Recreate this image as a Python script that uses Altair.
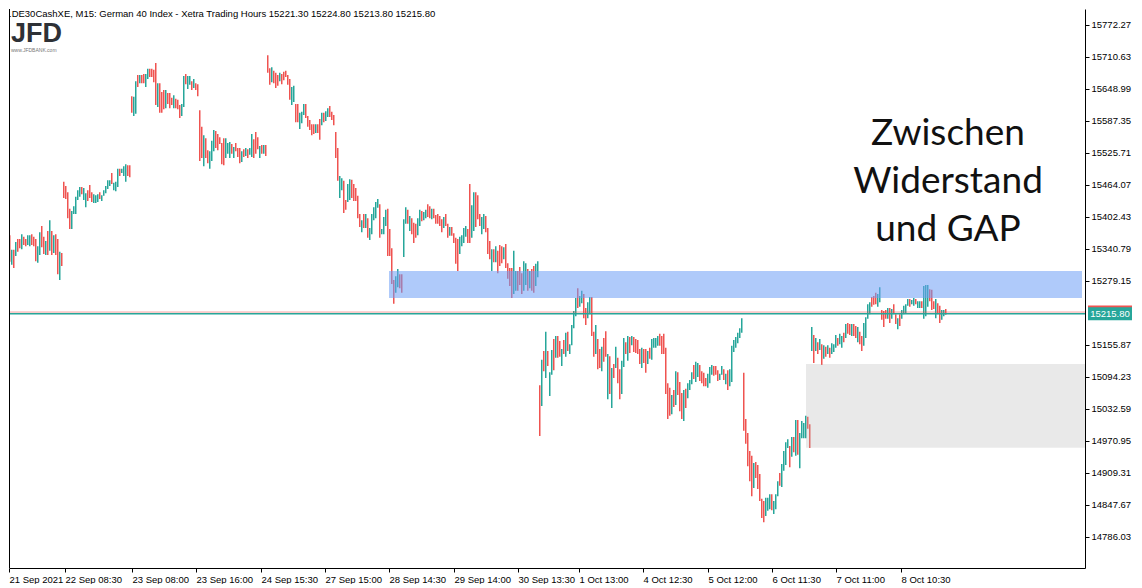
import json
import altair as alt
import pandas as pd

# ---------------- data (M15 bars: high, low, direction u=up d=down) ----------------
s01_hi = [15350, 15373, 15367, 15339, 15339, 15354, 15360, 15360, 15369, 15364,
          15360, 15367, 15367, 15369, 15364, 15360, 15346, 15373, 15385, 15364,
          15356, 15375, 15396, 15375, 15367, 15369, 15360, 15335, 15333]
s01_lo = [15296, 15310, 15316, 15310, 15304, 15327, 15335, 15342, 15340, 15348,
          15346, 15348, 15346, 15348, 15346, 15317, 15314, 15329, 15344, 15331,
          15329, 15329, 15337, 15329, 15333, 15329, 15292, 15281, 15308]
s01_dir = "dudud" "uddud" "duudd" "duudd" "ududu" "ddud"

s02_hi = [15470, 15462, 15450, 15418, 15414, 15423, 15441, 15454, 15460, 15460,
          15458, 15448, 15454, 15464, 15450, 15446, 15444, 15446, 15450, 15444,
          15454, 15462, 15473, 15473, 15487, 15468, 15470, 15495, 15495, 15495,
          15500, 15504, 15502, 15502]
s02_lo = [15439, 15437, 15400, 15379, 15379, 15408, 15408, 15435, 15441, 15446,
          15435, 15421, 15433, 15439, 15431, 15429, 15429, 15431, 15437, 15433,
          15443, 15448, 15456, 15462, 15466, 15454, 15452, 15460, 15481, 15487,
          15481, 15470, 15481, 15479]
s02_dir = "ddddu" "uuuud" "uuddd" "uuudu" "uuuud" "uuudu" "uudd"

s03_hi = [15635, 15634, 15664, 15676, 15676, 15676, 15678, 15678, 15688, 15688,
          15688, 15686, 15699, 15660, 15660, 15643, 15647, 15647, 15641, 15641,
          15632, 15637, 15630, 15628, 15618, 15620, 15674, 15678, 15674, 15674,
          15664, 15668, 15660, 15658]
s03_lo = [15603, 15597, 15601, 15653, 15660, 15660, 15660, 15653, 15668, 15672,
          15672, 15662, 15618, 15614, 15603, 15603, 15610, 15612, 15620, 15612,
          15618, 15612, 15612, 15610, 15593, 15597, 15614, 15658, 15649, 15657,
          15647, 15651, 15647, 15635]
s03_dir = "duudu" "dduud" "dddud" "ddudd" "duddd" "uuduu" "dudd"

s04_hi = [15608, 15576, 15560, 15554, 15531, 15529, 15549, 15570, 15568, 15562,
          15556, 15545, 15554, 15554, 15545, 15547, 15543, 15537, 15545, 15535,
          15535, 15529, 15533, 15535, 15533, 15535, 15562, 15552, 15566, 15556,
          15539, 15541, 15541, 15541]
s04_lo = [15510, 15516, 15500, 15516, 15506, 15495, 15510, 15529, 15535, 15531,
          15543, 15504, 15502, 15516, 15524, 15516, 15524, 15516, 15529, 15518,
          15506, 15508, 15518, 15520, 15516, 15522, 15518, 15516, 15524, 15533,
          15516, 15524, 15524, 15520]
s04_dir = "ddudd" "uuudd" "ddduu" "ududd" "dudud" "uuddd" "udud"

s05_hi = [15714, 15689, 15691, 15684, 15680, 15676, 15680, 15678, 15682, 15684,
          15676, 15668, 15653, 15655, 15620, 15620, 15603, 15605, 15620, 15620,
          15597, 15589, 15581, 15581, 15581, 15581, 15591, 15603, 15603, 15606,
          15612, 15616, 15605, 15599]
s05_lo = [15680, 15657, 15662, 15660, 15651, 15655, 15664, 15658, 15666, 15672,
          15657, 15628, 15618, 15624, 15585, 15585, 15572, 15583, 15599, 15593,
          15576, 15570, 15560, 15562, 15564, 15564, 15551, 15579, 15585, 15587,
          15595, 15595, 15589, 15579]
s05_dir = "ddudd" "duddd" "dduud" "duuud" "ddddu" "ddudu" "uddd"

s06_hi = [15566, 15535, 15481, 15477, 15472, 15435, 15466, 15475, 15474, 15466,
          15458, 15443, 15408, 15396, 15408, 15408, 15400, 15381, 15408, 15421,
          15431, 15437, 15427, 15379, 15402, 15416, 15418, 15379, 15342]
s06_lo = [15516, 15472, 15439, 15454, 15410, 15416, 15431, 15435, 15439, 15433,
          15433, 15400, 15383, 15373, 15381, 15381, 15362, 15358, 15369, 15396,
          15400, 15420, 15362, 15369, 15369, 15385, 15327, 15327, 15273]
s06_dir = "dduud" "duudd" "dddud" "uduuu" "uuduu" "uddd"

s07_hi = [15281, 15288, 15302, 15292, 15292, 15398, 15421, 15416, 15404, 15400,
          15391, 15389, 15400, 15416, 15414, 15412, 15416, 15427, 15423, 15418,
          15418, 15406, 15408, 15404, 15398, 15402, 15408, 15389, 15383, 15383,
          15371, 15362, 15360, 15364, 15367, 15381, 15385, 15379]
s07_lo = [15235, 15256, 15267, 15265, 15256, 15325, 15389, 15389, 15375, 15369,
          15352, 15362, 15367, 15385, 15394, 15396, 15400, 15402, 15400, 15398,
          15400, 15389, 15389, 15385, 15373, 15381, 15385, 15362, 15366, 15366,
          15352, 15312, 15298, 15331, 15346, 15352, 15364, 15352]
s07_dir = "duudd" "uudud" "dduud" "uuddu" "ddddd" "uddud" "ddduu" "uud"

s08_hi = [15466, 15425, 15450, 15450, 15444, 15408, 15402, 15408, 15404, 15381,
          15356, 15340, 15340, 15346, 15337, 15348, 15346, 15344, 15350, 15313,
          15304, 15304, 15337, 15298, 15298, 15306, 15294, 15317, 15313, 15302,
          15298, 15302, 15308, 15312, 15317]
s08_lo = [15352, 15362, 15375, 15383, 15398, 15385, 15369, 15379, 15373, 15331,
          15321, 15298, 15315, 15315, 15294, 15308, 15313, 15321, 15304, 15283,
          15269, 15246, 15254, 15260, 15260, 15271, 15254, 15260, 15271, 15260,
          15265, 15260, 15256, 15269, 15286]
s08_dir = "duudd" "duudd" "dudud" "ddudd" "dduud" "dduud" "udduu"

s09_hi = [15078, 15127, 15144, 15181, 15144, 15103, 15146, 15167, 15173, 15173,
          15163, 15148, 15165, 15179, 15181, 15157, 15194, 15221, 15246, 15265,
          15250, 15260, 15254, 15227, 15238, 15248, 15248, 15181, 15194, 15167,
          15148, 15152, 15169, 15182, 15138, 15134, 15111, 15119, 15152, 15131,
          15109, 15125, 15169, 15161, 15173, 15171, 15173, 15171, 15167, 15165,
          15148, 15150, 15148, 15148, 15144, 15150, 15167, 15169, 15169, 15173,
          15177, 15173, 15177, 15150, 15082, 15073]
s09_lo = [14980, 15038, 15105, 15092, 15115, 15057, 15098, 15107, 15131, 15131,
          15133, 15115, 15138, 15133, 15144, 15138, 15155, 15188, 15211, 15227,
          15229, 15236, 15207, 15194, 15207, 15215, 15173, 15133, 15138, 15109,
          15111, 15105, 15123, 15133, 15051, 15061, 15034, 15092, 15111, 15082,
          15051, 15061, 15113, 15138, 15125, 15140, 15155, 15142, 15140, 15138,
          15119, 15111, 15121, 15102, 15119, 15129, 15127, 15150, 15150, 15154,
          15154, 15138, 15138, 15061, 15013, 15019]
s09_dir = ("dudud" "uudud" "dudud" "uuuud" "uuddu" "uddud" "duddu" "dudud"
           "duudu" "duddd" "duddu" "duuuu" "dddddd")

s10_hi = [15059, 15069, 15105, 15103, 15084, 15063, 15069, 15071, 15082, 15088,
          15103, 15117, 15123, 15121, 15117, 15105, 15102, 15092, 15100, 15113,
          15117, 15115, 15115, 15107, 15100, 15115, 15109, 15100, 15107, 15109,
          15154, 15165, 15171, 15179, 15188, 15207]
s10_lo = [15022, 15036, 15040, 15059, 15028, 15013, 15009, 15034, 15053, 15069,
          15080, 15090, 15084, 15094, 15086, 15082, 15076, 15076, 15073, 15082,
          15098, 15096, 15098, 15086, 15088, 15098, 15088, 15080, 15069, 15076,
          15084, 15142, 15150, 15159, 15169, 15179]
s10_dir = "ududd" "duduu" "uduud" "ddduu" "udddu" "ududu" "uuuuuu"

s11_hi = [15102, 15013, 14986, 14951, 14942, 14928, 14930, 14924, 14907, 14859,
          14855, 14861, 14861, 14868, 14868, 14855, 14868, 14893, 14909, 14926,
          14951, 14968, 14974, 14961, 14978, 14978, 15011, 15011, 14986, 15009,
          15005, 15019, 15017, 15003]
s11_lo = [14990, 14965, 14922, 14893, 14864, 14880, 14899, 14878, 14855, 14822,
          14814, 14826, 14836, 14839, 14837, 14830, 14839, 14864, 14884, 14882,
          14913, 14924, 14957, 14920, 14940, 14949, 14942, 14944, 14918, 14976,
          14976, 14976, 14994, 14957]
s11_dir = "ddddd" "udddd" "duuud" "uuudu" "uuudu" "duduu" "uudd"

s12_hi = [15190, 15175, 15169, 15161, 15167, 15157, 15155, 15152, 15155, 15150,
          15159, 15157, 15175, 15169, 15177, 15173, 15179, 15196, 15198, 15196,
          15196, 15196, 15192, 15190, 15181, 15173, 15198, 15209, 15234, 15238,
          15248, 15250, 15256, 15254, 15267, 15223, 15221, 15223, 15227, 15227,
          15225, 15234, 15215, 15207, 15215, 15223, 15231, 15234, 15244, 15244,
          15242, 15246, 15244, 15240, 15240, 15240, 15269, 15271, 15271, 15263,
          15262, 15240, 15244, 15236, 15231, 15223, 15223, 15225]
s12_lo = [15144, 15121, 15144, 15138, 15146, 15117, 15129, 15133, 15138, 15131,
          15138, 15142, 15150, 15154, 15157, 15150, 15161, 15169, 15177, 15175,
          15173, 15173, 15169, 15161, 15157, 15144, 15154, 15169, 15206, 15215,
          15229, 15233, 15234, 15229, 15238, 15204, 15190, 15206, 15206, 15198,
          15206, 15215, 15196, 15186, 15192, 15206, 15215, 15217, 15231, 15229,
          15234, 15231, 15234, 15227, 15227, 15227, 15206, 15211, 15229, 15240,
          15223, 15225, 15207, 15215, 15198, 15204, 15211, 15214]
s12_dir = ("ududu" "dudud" "uuudu" "ududd" "uddud" "duuuu" "ddduu" "dddud"
           "uddud" "uuuud" "uuduu" "duuud" "ddudd" "uud")

# axis values
y_ticks = [15772.27, 15710.63, 15648.99, 15587.35, 15525.71, 15464.07, 15402.43,
           15340.79, 15279.15, 15155.87, 15094.23, 15032.59, 14970.95, 14909.31,
           14847.67, 14786.03]
x_tick_pos = [2, 30, 63.5, 95.5, 128, 160, 192, 224.5, 256.5, 287, 319, 351.5,
              383.5, 415.5, 448]
x_tick_labels = ["21 Sep 2021", "22 Sep 08:30", "23 Sep 08:00", "23 Sep 16:00",
                 "24 Sep 15:30", "27 Sep 15:00", "28 Sep 14:30", "29 Sep 14:00",
                 "30 Sep 13:30", "1 Oct 13:00", "4 Oct 12:30", "5 Oct 12:00",
                 "6 Oct 11:30", "7 Oct 11:00", "8 Oct 10:30"]

# zones (bar-index from/to, price top/bottom)
resist_zone = [192, 538.5, 15298, 15246]
gap_zone = [400.5, 540, 15119, 14957.5]
bid_price = 15215.80
ask_price = 15219.0
header = ".DE30CashXE, M15:  German 40 Index  - Xetra Trading Hours  15221.30 15224.80 15213.80 15215.80"
note_lines = ["Zwischen", "Widerstand", "und GAP"]

# ---------------- build table ----------------
segments = [(s01_hi, s01_lo, s01_dir), (s02_hi, s02_lo, s02_dir), (s03_hi, s03_lo, s03_dir),
            (s04_hi, s04_lo, s04_dir), (s05_hi, s05_lo, s05_dir), (s06_hi, s06_lo, s06_dir),
            (s07_hi, s07_lo, s07_dir), (s08_hi, s08_lo, s08_dir), (s09_hi, s09_lo, s09_dir),
            (s10_hi, s10_lo, s10_dir), (s11_hi, s11_lo, s11_dir), (s12_hi, s12_lo, s12_dir)]
rows = []
idx = 0
for hi, lo, dr in segments:
    for h, l, d in zip(hi, lo, dr):
        rows.append({"i": idx, "high": h, "low": l, "dir": "up" if d == "u" else "down"})
        idx += 1
bars = pd.DataFrame(rows)

UP, DOWN = "#26a69a", "#ef5350"
W, H = 1076, 559
Y_TOP, Y_BOT = 15803.1, 14725.7
px_per_pt = H / (Y_TOP - Y_BOT)

FONT = "Liberation Sans"
xs = alt.Scale(domain=[2, 540], nice=False, zero=False)
ys = alt.Scale(domain=[Y_BOT, Y_TOP], nice=False, zero=False)

lab_js = "[" + ",".join("'%s'" % s for s in x_tick_labels) + "]"
x_axis = alt.Axis(values=x_tick_pos, title=None, grid=False, orient="bottom",
                  labelExpr=f"{lab_js}[indexof({json.dumps(x_tick_pos)}, datum.value)]",
                  labelAlign="left", labelBaseline="top", labelPadding=2,
                  labelFont=FONT, labelFontSize=9.5, labelColor="black",
                  labelOverlap=False, labelFlush=False, labelBound=False,
                  tickSize=4, tickColor="black", domainColor="black")
y_axis = alt.Axis(values=y_ticks, format=".2f", title=None, grid=False, orient="right",
                  labelAlign="left", labelBaseline="middle", labelPadding=2,
                  labelFont=FONT, labelFontSize=9.5, labelColor="black",
                  labelOverlap=False, labelFlush=False, labelBound=False,
                  tickSize=4, tickColor="black", domainColor="black")

def X(f):
    return alt.X(f, type="quantitative", scale=xs, axis=x_axis)

def Y(f):
    return alt.Y(f, type="quantitative", scale=ys, axis=y_axis)

# each bar drawn as a narrow filled rect from low to high (about 1.5 px wide)
bars["x_a"] = bars["i"]
bars["x_b"] = bars["i"] + 0.75
base_bars = alt.Chart(bars)
bars_up = base_bars.transform_filter(alt.datum.dir == "up").mark_rect(
    clip=True, fill=UP, stroke=None, opacity=1
).encode(x=X("x_a"), x2="x_b", y=Y("high"), y2="low")
bars_dn = base_bars.transform_filter(alt.datum.dir == "down").mark_rect(
    clip=True, fill=DOWN, stroke=None, opacity=1
).encode(x=X("x_a"), x2="x_b", y=Y("high"), y2="low")

res_df = pd.DataFrame({"x1": [resist_zone[0]], "x2": [resist_zone[1]],
                       "y1": [resist_zone[2]], "y2": [resist_zone[3]]})
gap_df = pd.DataFrame({"x1": [gap_zone[0]], "x2": [gap_zone[1]],
                       "y1": [gap_zone[2]], "y2": [gap_zone[3]]})
res_layer = alt.Chart(res_df).mark_rect(color="#6e9ef5", opacity=0.55).encode(
    x=X("x1"), x2="x2", y=Y("y1"), y2="y2")
gap_layer = alt.Chart(gap_df).mark_rect(color="#b4b4b4", opacity=0.29).encode(
    x=X("x1"), x2="x2", y=Y("y1"), y2="y2")

ask_line = alt.Chart(pd.DataFrame({"p": [ask_price]})).mark_rule(
    strokeWidth=0.8, color=DOWN, opacity=0.7).encode(
    y=Y("p"), x=alt.value(0), x2=alt.value(W))
bid_line = alt.Chart(pd.DataFrame({"p": [bid_price]})).mark_rule(strokeWidth=1.5, color=UP).encode(
    y=Y("p"), x=alt.value(0), x2=alt.value(W))

half = 6.5 / px_per_pt
ask_box = alt.Chart(pd.DataFrame({"t": [ask_price + half], "b": [ask_price - half]})).mark_rect(
    color=DOWN).encode(x=alt.value(W + 3), x2=alt.value(W + 47), y=Y("t"), y2="b")
bid_box = alt.Chart(pd.DataFrame({"t": [bid_price + half], "b": [bid_price - half]})).mark_rect(
    color=UP).encode(x=alt.value(W + 3), x2=alt.value(W + 47), y=Y("t"), y2="b")
box_text = alt.Chart(pd.DataFrame({"p": [bid_price]})).mark_text(
    font=FONT, fontSize=9.5, color="white", align="center", baseline="middle", dy=0.5
).encode(x=alt.value(W + 25), y=Y("p"), text=alt.Text("p:Q", format=".2f"))

frame_left = alt.Chart(pd.DataFrame({"a": [0]})).mark_rule(color="black", strokeWidth=1).encode(
    x=alt.value(0.5), y=alt.value(0), y2=alt.value(H))

header_layer = alt.Chart(pd.DataFrame({"t": [header]})).mark_text(
    font=FONT, fontSize=9.5, color="black", align="left", baseline="top"
).encode(x=alt.value(0), y=alt.value(0), text="t:N")

logo = alt.Chart(pd.DataFrame({"t": ["JFD"]})).mark_text(
    font=FONT, fontSize=27, fontWeight="bold", color="#2e3136", align="left", baseline="alphabetic"
).encode(x=alt.value(2), y=alt.value(33), text="t:N")
logo_url = alt.Chart(pd.DataFrame({"t": ["www.JFDBANK.com"]})).mark_text(
    font=FONT, fontSize=5, color="#777777", align="left", baseline="top"
).encode(x=alt.value(2), y=alt.value(39), text="t:N")

note_layers = []
for k, line in enumerate(note_lines):
    note_layers.append(
        alt.Chart(pd.DataFrame({"t": [line]})).mark_text(
            font="Lato", fontSize=37, color="#111111", align="center", baseline="alphabetic"
        ).encode(x=alt.value(939), y=alt.value(136 + 48 * k), text="t:N")
    )

chart = alt.layer(
    bars_up, bars_dn, res_layer, gap_layer, ask_line, bid_line, ask_box, bid_box, box_text,
    frame_left, header_layer, logo, logo_url, *note_layers
).properties(width=W, height=H, padding=0, background="white").configure_view(stroke=None)

chart.save("out.html", embed_options={"renderer": "svg", "actions": False})
